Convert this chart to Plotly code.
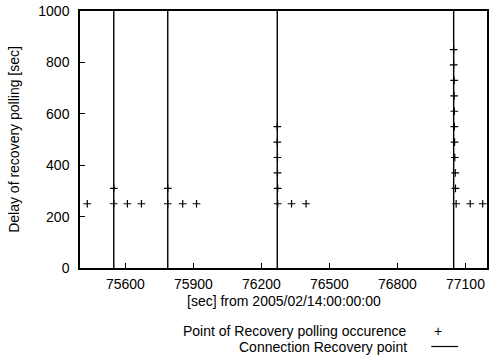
import plotly.graph_objects as go

# Connection recovery points (seconds from 2005/02/14 00:00:00)
recovery_x = [75549, 75787, 76270, 77048]

# Recovery polling occurrences
poll_x = [75432, 75549, 75549, 75609, 75671,
          75787, 75787, 75853, 75914,
          76270, 76270, 76271, 76271, 76272, 76272, 76333, 76397,
          77048, 77048, 77050, 77050, 77051, 77051, 77052, 77053, 77055, 77056, 77059,
          77121, 77176]
poll_y = [250, 250, 310, 250, 250,
          250, 310, 250, 250,
          550, 490, 430, 370, 310, 250, 250, 250,
          850, 790, 730, 670, 610, 550, 490, 430, 370, 310, 250,
          250, 250]

x_ticks = [75600, 75900, 76200, 76500, 76800, 77100]
y_ticks = [0, 200, 400, 600, 800, 1000]
x_range = [75400, 77195]
y_range = [0, 1000]

FONT = "Liberation Sans"

# vertical lines from data
lx, ly = [], []
for xv in recovery_x:
    lx += [xv, xv, None]
    ly += [y_range[0], y_range[1], None]

fig = go.Figure()
fig.add_trace(go.Scatter(x=lx, y=ly, mode="lines",
                         line=dict(color="black", width=1.4),
                         name="Connection Recovery point", showlegend=False))
fig.add_trace(go.Scatter(x=poll_x, y=poll_y, mode="markers",
                         marker=dict(symbol="cross-thin", size=5.5,
                                     line=dict(color="black", width=1.2), color="black"),
                         name="Point of Recovery polling occurence", showlegend=False))

W, H = 490, 356
L, R, T, B = 80, 1, 11, 88
pw, ph = W - L - R, H - T - B

def px(xp):
    return (xp - L) / pw

def py(yp):
    return (T + ph - yp) / ph

ann = [
    dict(text="[sec] from 2005/02/14:00:00:00", x=px(285), y=py(301),
         xanchor="center", yanchor="middle"),
    dict(text="Delay of recovery polling [sec]", x=px(13), y=py(139.5),
         xanchor="center", yanchor="middle", textangle=-90),
    dict(text="Point of Recovery polling occurence", x=px(411), y=py(331),
         xanchor="right", yanchor="middle"),
    dict(text="Connection Recovery point", x=px(411), y=py(347),
         xanchor="right", yanchor="middle"),
    dict(text="+", x=px(439.5), y=py(331), xanchor="center", yanchor="middle"),
]
annotations = [dict(a, xref="paper", yref="paper", showarrow=False,
                    font=dict(family=FONT, size=14, color="black")) for a in ann]

fig.update_layout(
    width=W, height=H,
    margin=dict(l=L, r=R, t=T, b=B, pad=0),
    paper_bgcolor="white", plot_bgcolor="white",
    font=dict(family=FONT, size=14, color="black"),
    annotations=annotations,
    shapes=[dict(type="line", xref="paper", yref="paper",
                 x0=px(433), x1=px(460), y0=py(346.5), y1=py(346.5),
                 line=dict(color="black", width=1.2))],
)
fig.update_xaxes(range=x_range, tickvals=x_ticks, ticktext=[str(v) for v in x_ticks],
                 showgrid=False, zeroline=False, showline=True, mirror=True,
                 linecolor="black", linewidth=1.5, ticks="inside", ticklen=5,
                 tickcolor="black", tickwidth=1, ticklabelstandoff=2,
                 tickfont=dict(family=FONT, size=14, color="black"))
fig.update_yaxes(range=y_range, tickvals=y_ticks, ticktext=[str(v) for v in y_ticks],
                 showgrid=False, zeroline=False, showline=True, mirror=True,
                 linecolor="black", linewidth=1.5, ticks="inside", ticklen=5,
                 tickcolor="black", tickwidth=1, ticklabelstandoff=6,
                 tickfont=dict(family=FONT, size=14, color="black"))

fig.write_html("out.html")
